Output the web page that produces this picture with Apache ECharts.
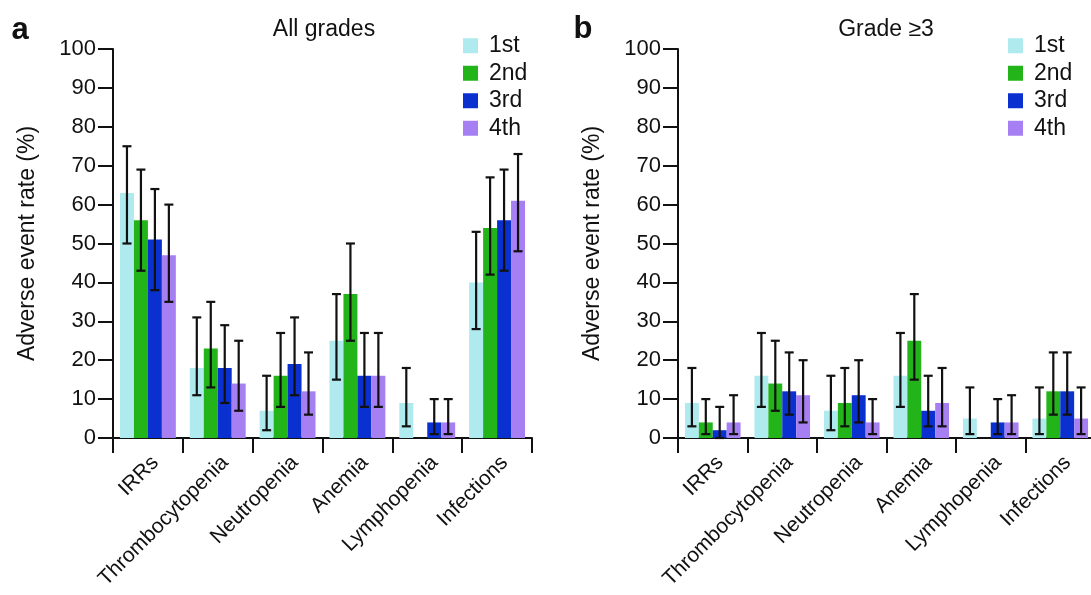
<!DOCTYPE html>
<html>
<head>
<meta charset="utf-8">
<script src="https://cdn.jsdelivr.net/npm/echarts@6/dist/echarts.min.js"></script>
<style>
html,body{margin:0;padding:0;background:#fff;}
#chart{width:1091px;height:595px;}
</style>
</head>
<body>
<div id="chart"></div>
<script>
var categories = ['IRRs', 'Thrombocytopenia', 'Neutropenia', 'Anemia', 'Lymphopenia', 'Infections'];
var grades = ['1st', '2nd', '3rd', '4th'];
var tickLabelsY = [0, 10, 20, 30, 40, 50, 60, 70, 80, 90, 100];

// Panel a: All grades — value, lower CI, upper CI per grade
var allGrades1st = [63, 18, 7, 25, 9, 40];
var allGrades1stLo = [50, 11, 2, 15, 3, 28];
var allGrades1stHi = [75, 31, 16, 37, 18, 53];
var allGrades2nd = [56, 23, 16, 37, 0, 54];
var allGrades2ndLo = [43, 13, 8, 25, null, 42];
var allGrades2ndHi = [69, 35, 27, 50, null, 67];
var allGrades3rd = [51, 18, 19, 16, 4, 56];
var allGrades3rdLo = [38, 9, 11, 8, 1, 43];
var allGrades3rdHi = [64, 29, 31, 27, 10, 69];
var allGrades4th = [47, 14, 12, 16, 4, 61];
var allGrades4thLo = [35, 7, 6, 8, 1, 48];
var allGrades4thHi = [60, 25, 22, 27, 10, 73];

// Panel b: Grade >=3
var g3_1st = [9, 16, 7, 16, 5, 5];
var g3_1stLo = [3, 8, 2, 8, 1, 1];
var g3_1stHi = [18, 27, 16, 27, 13, 13];
var g3_2nd = [4, 14, 9, 25, 0, 12];
var g3_2ndLo = [1, 7, 3, 15, null, 6];
var g3_2ndHi = [10, 25, 18, 37, null, 22];
var g3_3rd = [2, 12, 11, 7, 4, 12];
var g3_3rdLo = [0, 6, 4, 3, 1, 6];
var g3_3rdHi = [8, 22, 20, 16, 10, 22];
var g3_4th = [4, 11, 4, 9, 4, 5];
var g3_4thLo = [1, 4, 1, 3, 1, 1];
var g3_4thHi = [11, 20, 10, 18, 11, 13];

var colors = ['#aeeaee', '#22b418', '#0a30d0', '#a680f3'];
var FONT = '"Liberation Sans", Arial, sans-serif';

var panelA = {
  vals: [allGrades1st, allGrades2nd, allGrades3rd, allGrades4th],
  lo: [allGrades1stLo, allGrades2ndLo, allGrades3rdLo, allGrades4thLo],
  hi: [allGrades1stHi, allGrades2ndHi, allGrades3rdHi, allGrades4thHi]
};
var panelB = {
  vals: [g3_1st, g3_2nd, g3_3rd, g3_4th],
  lo: [g3_1stLo, g3_2ndLo, g3_3rdLo, g3_4thLo],
  hi: [g3_1stHi, g3_2ndHi, g3_3rdHi, g3_4thHi]
};

function errData(p) {
  var d = [];
  for (var g = 0; g < 4; g++) {
    for (var c = 0; c < categories.length; c++) {
      if (p.lo[g][c] != null && p.hi[g][c] != null) {
        d.push([c, p.lo[g][c], p.hi[g][c], g]);
      }
    }
  }
  return d;
}

function renderErr(params, api) {
  var c = api.value(0), lo = api.value(1), hi = api.value(2), g = api.value(3);
  var pHi = api.coord([c, hi]);
  var pLo = api.coord([c, lo]);
  var band = api.size([1, 0])[0];
  var bw = band * 0.8 / 4;
  var x = pHi[0] + (g - 1.5) * bw;
  var cap = 4.5;
  var st = {stroke: '#111', lineWidth: 2.2};
  return {
    type: 'group',
    children: [
      {type: 'line', shape: {x1: x, y1: pHi[1], x2: x, y2: pLo[1]}, style: st},
      {type: 'line', shape: {x1: x - cap, y1: pHi[1], x2: x + cap, y2: pHi[1]}, style: st},
      {type: 'line', shape: {x1: x - cap, y1: pLo[1], x2: x + cap, y2: pLo[1]}, style: st}
    ]
  };
}

function makeX(idx) {
  return {
    type: 'category', gridIndex: idx, data: categories,
    boundaryGap: true,
    axisLine: {lineStyle: {color: '#111', width: 2}},
    axisTick: {show: true, length: 15, alignWithLabel: false, lineStyle: {color: '#111', width: 2}},
    axisLabel: {interval: 0, rotate: 45, margin: 14, verticalAlign: 'top', color: '#111', fontSize: 21, fontFamily: FONT},
    splitLine: {show: false}
  };
}
function makeY(idx) {
  return {
    type: 'value', gridIndex: idx, min: 0, max: 100, interval: 10,
    name: 'Adverse event rate (%)', nameLocation: 'middle', nameGap: 74,
    nameTextStyle: {color: '#111', fontSize: 23, fontFamily: FONT},
    axisLine: {show: true, lineStyle: {color: '#111', width: 2}},
    axisTick: {show: true, length: 15, lineStyle: {color: '#111', width: 2}},
    axisLabel: {margin: 17, color: '#111', fontSize: 22, fontFamily: FONT,
      formatter: function (v) { return tickLabelsY.indexOf(v) >= 0 ? String(v) : ''; }},
    splitLine: {show: false}
  };
}

var series = [];
[panelA, panelB].forEach(function (p, pi) {
  for (var g = 0; g < 4; g++) {
    series.push({
      type: 'bar', name: grades[g], xAxisIndex: pi, yAxisIndex: pi,
      data: p.vals[g], barGap: '0%', barCategoryGap: '20%',
      itemStyle: {color: colors[g]}, animation: false
    });
  }
  series.push({
    type: 'custom', name: 'err' + pi, xAxisIndex: pi, yAxisIndex: pi,
    data: errData(p), renderItem: renderErr, z: 10, animation: false,
    encode: {x: 0, y: [1, 2]}, clip: false
  });
});

function makeLegend(left) {
  return {
    orient: 'vertical', left: left, top: 32, padding: 0,
    data: grades, icon: 'rect', itemWidth: 15, itemHeight: 15, itemGap: 0,
    selectedMode: false,
    textStyle: {color: '#111', fontSize: 23, fontFamily: FONT, lineHeight: 27.5, padding: [0, 0, 0, 6]}
  };
}

var chart = echarts.init(document.getElementById('chart'), null, {renderer: 'canvas'});
chart.setOption({
  backgroundColor: '#fff',
  animation: false,
  color: colors,
  grid: [
    {left: 113, top: 49, width: 419, height: 389, outerBoundsMode: 'none', containLabel: false},
    {left: 678, top: 49, width: 417, height: 389, outerBoundsMode: 'none', containLabel: false}
  ],
  xAxis: [makeX(0), makeX(1)],
  yAxis: [makeY(0), makeY(1)],
  legend: [makeLegend(463), makeLegend(1008)],
  series: series,
  graphic: [
    {type: 'text', x: 20, y: 30, style: {text: 'a', fontSize: 31, fontWeight: 'bold', fontFamily: FONT, fill: '#111', textAlign: 'center', textVerticalAlign: 'middle'}},
    {type: 'text', x: 583, y: 29, style: {text: 'b', fontSize: 31, fontWeight: 'bold', fontFamily: FONT, fill: '#111', textAlign: 'center', textVerticalAlign: 'middle'}},
    {type: 'text', x: 324, y: 30, style: {text: 'All grades', fontSize: 23, fontFamily: FONT, fill: '#111', textAlign: 'center', textVerticalAlign: 'middle'}},
    {type: 'text', x: 886, y: 30, style: {text: 'Grade \u22653', fontSize: 23, fontFamily: FONT, fill: '#111', textAlign: 'center', textVerticalAlign: 'middle'}}
  ]
});
</script>
</body>
</html>
